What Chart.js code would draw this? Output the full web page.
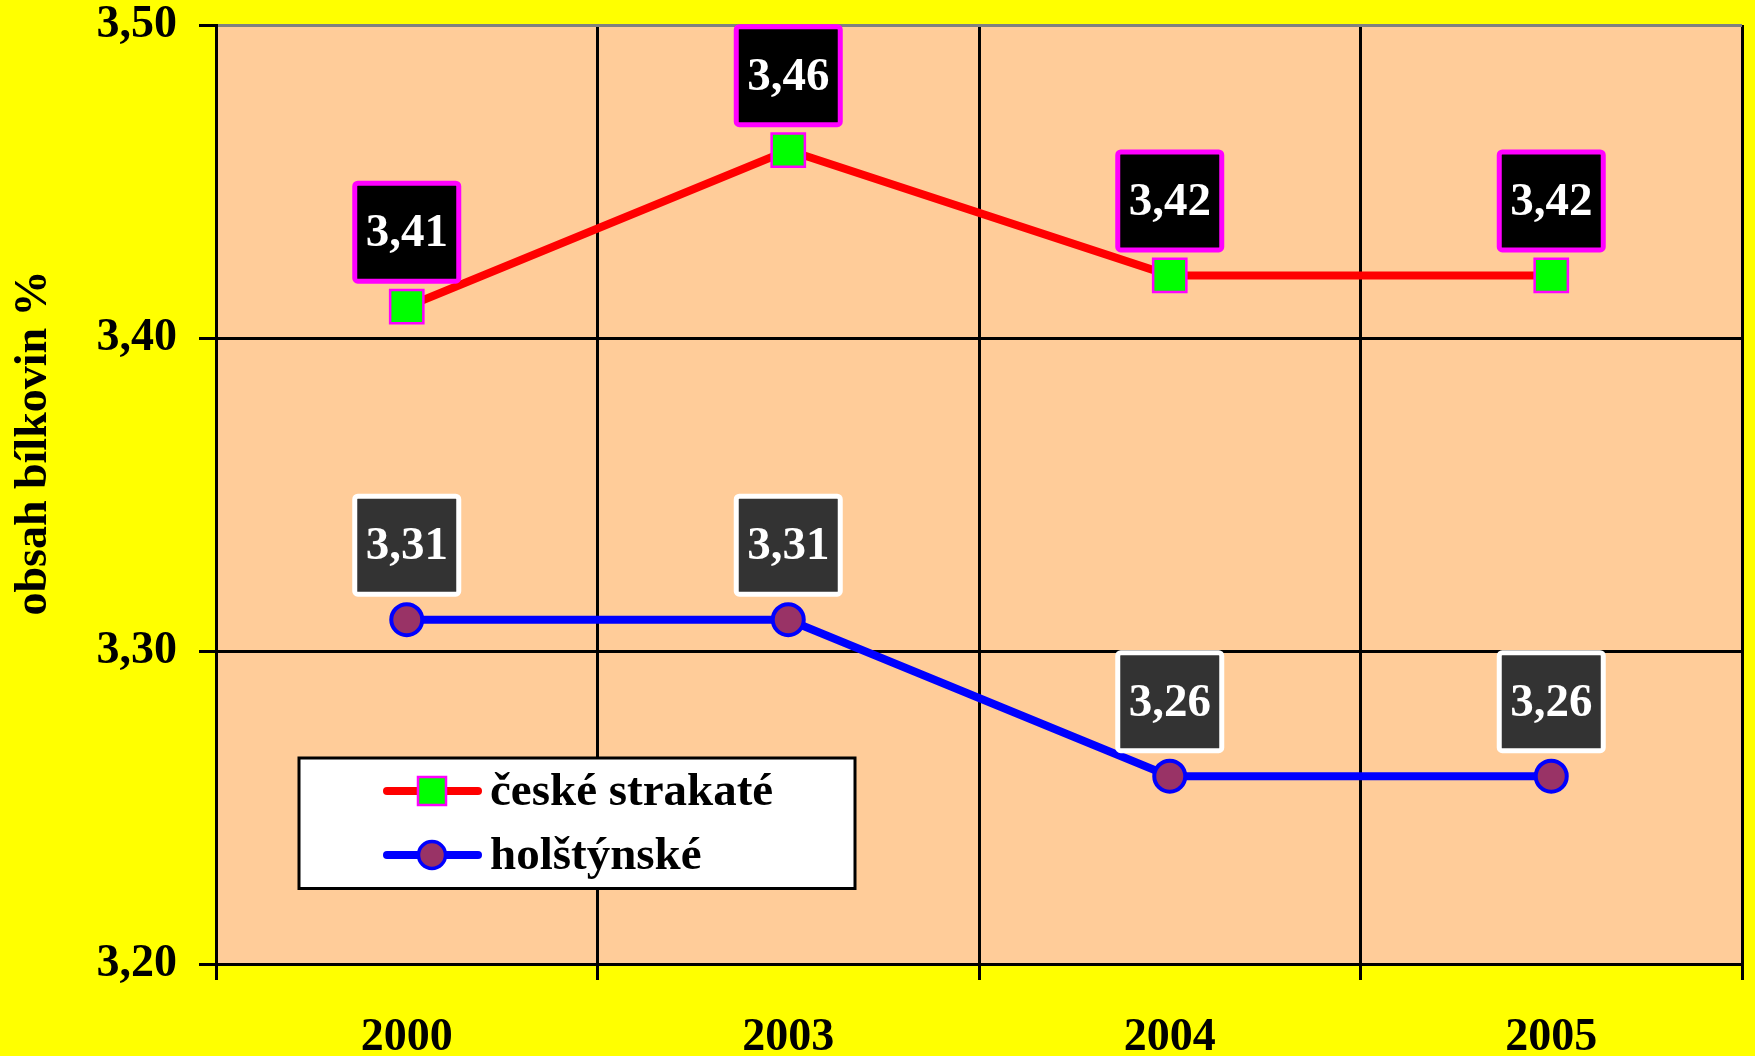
<!DOCTYPE html>
<html><head><meta charset="utf-8">
<script src="https://cdn.jsdelivr.net/npm/chart.js@4/dist/chart.umd.min.js"></script>
<style>html,body{margin:0;padding:0;background:#FFFF00;overflow:hidden}#wrap{width:1755px;height:1056px}</style>
</head><body><div id="wrap"><canvas id="c" width="1755" height="1056"></canvas></div>
<script>
const categories = ['2000', '2003', '2004', '2005'];
const seriesNames = ['české strakaté', 'holštýnské'];
const ceskeStrakate = [3.41, 3.46, 3.42, 3.42];
const holstynske = [3.31, 3.31, 3.26, 3.26];
const yTicks = [3.20, 3.30, 3.40, 3.50];
const yTitle = 'obsah bílkovin %';

const FONT = "'Liberation Serif','Times New Roman',serif";
const fmt = v => v.toFixed(2).replace('.', ',');

const bgPlugin = {
  id: 'bg',
  beforeDraw(chart) {
    const {ctx, chartArea: a} = chart;
    ctx.save();
    ctx.fillStyle = '#FFFF00';
    ctx.fillRect(0, 0, chart.width, chart.height);
    ctx.fillStyle = '#FFCC99';
    ctx.fillRect(a.left, a.top, a.right - a.left, a.bottom - a.top);
    ctx.restore();
  }
};

const labelStyles = [
  {fill: '#000000', stroke: '#FF00FF'},
  {fill: '#333333', stroke: '#FFFFFF'}
];

const labelPlugin = {
  id: 'valLabels',
  afterDatasetsDraw(chart) {
    const ctx = chart.ctx;
    ctx.save();
    chart.data.datasets.forEach((ds, i) => {
      const meta = chart.getDatasetMeta(i);
      const st = labelStyles[i];
      meta.data.forEach((pt, j) => {
        const w = 104, h = 98;
        const x = pt.x - w / 2;
        const y = pt.y - 25.5 - h;
        ctx.beginPath();
        ctx.roundRect(x, y, w, h, 3);
        ctx.fillStyle = st.fill;
        ctx.fill();
        ctx.lineWidth = 5;
        ctx.strokeStyle = st.stroke;
        ctx.stroke();
        ctx.fillStyle = '#FFFFFF';
        ctx.font = 'bold 47px ' + FONT;
        ctx.textAlign = 'center';
        ctx.textBaseline = 'middle';
        ctx.fillText(fmt(ds.data[j]), pt.x, y + h / 2 + 2);
      });
    });
    ctx.restore();
  }
};

const extrasPlugin = {
  id: 'extras',
  afterDraw(chart) {
    const ctx = chart.ctx;
    ctx.save();
    ctx.translate(34, 443);
    ctx.rotate(-Math.PI / 2);
    ctx.fillStyle = '#000';
    ctx.font = 'bold 46px ' + FONT;
    ctx.textAlign = 'center';
    ctx.textBaseline = 'middle';
    ctx.fillText(yTitle, 0, 0);
    ctx.restore();

    ctx.save();
    ctx.fillStyle = '#FFFFFF';
    ctx.fillRect(299, 758, 556, 130.5);
    ctx.lineWidth = 3;
    ctx.strokeStyle = '#000';
    ctx.strokeRect(299, 758, 556, 130.5);
    const rows = [791, 855];
    chart.data.datasets.forEach((ds, i) => {
      const yy = rows[i];
      ctx.beginPath();
      ctx.moveTo(387, yy);
      ctx.lineTo(478, yy);
      ctx.lineWidth = 8;
      ctx.lineCap = 'round';
      ctx.strokeStyle = ds.borderColor;
      ctx.stroke();
      ctx.lineCap = 'butt';
      if (ds.pointStyle === 'rect') {
        ctx.fillStyle = ds.pointBackgroundColor;
        ctx.fillRect(418, yy - 14, 28, 28);
        ctx.lineWidth = 2.5;
        ctx.strokeStyle = ds.pointBorderColor;
        ctx.strokeRect(418, yy - 14, 28, 28);
      } else {
        ctx.beginPath();
        ctx.arc(432, yy, 13.5, 0, Math.PI * 2);
        ctx.fillStyle = ds.pointBackgroundColor;
        ctx.fill();
        ctx.lineWidth = 3.5;
        ctx.strokeStyle = ds.pointBorderColor;
        ctx.stroke();
      }
      ctx.fillStyle = '#000';
      ctx.font = 'bold 47px ' + FONT;
      ctx.textAlign = 'left';
      ctx.textBaseline = 'middle';
      ctx.fillText(ds.label, 490, yy + 2);
    });
    ctx.restore();
  }
};

new Chart(document.getElementById('c'), {
  type: 'line',
  data: {
    labels: categories,
    datasets: [
      {
        label: seriesNames[0],
        data: ceskeStrakate,
        borderColor: '#FF0000',
        borderWidth: 8,
        pointStyle: 'rect',
        pointRadius: 23.5,
        pointBorderWidth: 2.5,
        pointBackgroundColor: '#00FF00',
        pointBorderColor: '#FF00FF',
        tension: 0
      },
      {
        label: seriesNames[1],
        data: holstynske,
        borderColor: '#0000FF',
        borderWidth: 8,
        pointStyle: 'circle',
        pointRadius: 15.5,
        pointBorderWidth: 4,
        pointBackgroundColor: '#993366',
        pointBorderColor: '#0000FF',
        tension: 0
      }
    ]
  },
  options: {
    responsive: false,
    devicePixelRatio: 1,
    animation: false,
    events: [],
    layout: {autoPadding: false, padding: {top: 25, right: 13, left: 0, bottom: 0}},
    plugins: {legend: {display: false}, tooltip: {enabled: false}, title: {display: false}},
    scales: {
      x: {
        offset: true,
        grid: {
          offset: true,
          lineWidth: 3,
          color: c => (c.index === categories.length ? '#808080' : '#000000'),
          tickColor: '#000000',
          tickLength: 16,
          tickWidth: 3
        },
        border: {color: '#000000', width: 3},
        ticks: {color: '#000', font: {family: FONT, size: 46, weight: 'bold', lineHeight: 1}, padding: 35, maxRotation: 0},
        afterFit: s => { s.height = 92; s.paddingLeft = 0; s.paddingRight = 0; }
      },
      y: {
        min: 3.2,
        max: 3.5,
        afterBuildTicks: s => { s.ticks = yTicks.map(v => ({value: v})); },
        grid: {
          lineWidth: 3,
          color: c => (c.tick && Math.abs(c.tick.value - 3.5) < 1e-9 ? '#808080' : '#000000'),
          tickColor: '#000000',
          tickLength: 17,
          tickWidth: 3
        },
        border: {color: '#000000', width: 3},
        ticks: {color: '#000', font: {family: FONT, size: 46, weight: 'bold', lineHeight: 1}, padding: 22, callback: v => fmt(v)},
        afterFit: s => { s.width = 216; s.paddingTop = 0; s.paddingBottom = 0; }
      }
    }
  },
  plugins: [bgPlugin, labelPlugin, extrasPlugin]
});
</script>
</body></html>
